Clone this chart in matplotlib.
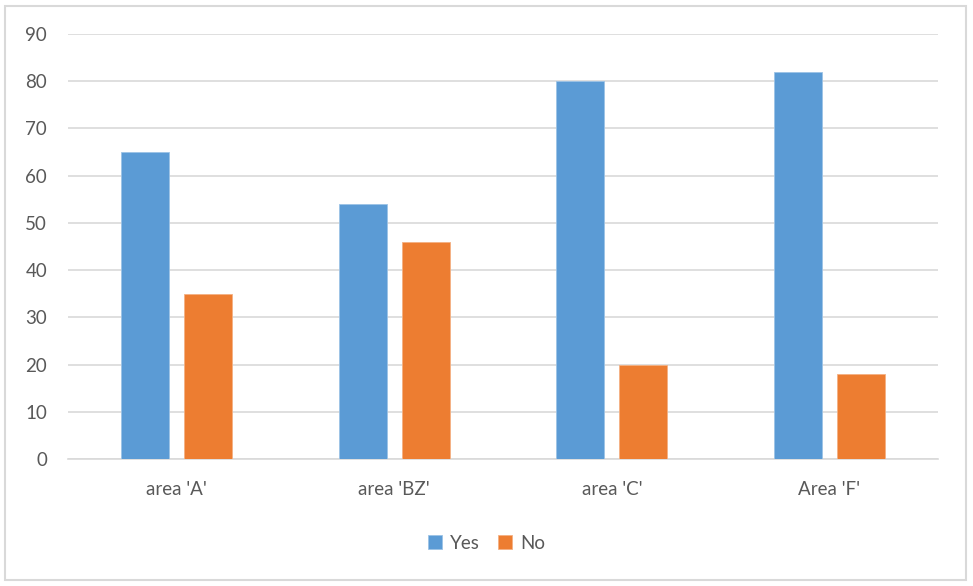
import numpy as np
import matplotlib.pyplot as plt
from matplotlib.patches import Rectangle

categories = ["area 'A'", "area 'BZ'", "area 'C'", "Area 'F'"]
yes_values = [65, 54, 80, 82]
no_values = [35, 46, 20, 18]
y_ticks = [0, 10, 20, 30, 40, 50, 60, 70, 80, 90]

blue = '#5B9BD5'
orange = '#ED7D31'
text_grey = '#595959'
line_grey = '#D9D9D9'

plt.rcParams['font.family'] = ['Lato', 'DejaVu Sans']

fig = plt.figure(figsize=[9.73, 5.86], dpi=100)
ax = fig.add_axes([0.0699, 0.2167, 0.8942, 0.7253])

# chart border
fig.patches.append(Rectangle((5 / 973, 6 / 586), 961 / 973, 574 / 586,
                             transform=fig.transFigure, fill=False,
                             edgecolor=line_grey, linewidth=1.5))

x = np.arange(len(categories))
width = 0.22
gap = 0.069
off = (width + gap) / 2

ax.bar(x - off, yes_values, width, color=blue, edgecolor='#9CC3E6',
       linewidth=0.6, label='Yes', zorder=3)
ax.bar(x + off, no_values, width, color=orange, edgecolor='#F4B183',
       linewidth=0.6, label='No', zorder=3)

ax.set_xlim(-0.5, len(categories) - 0.5)
ax.set_ylim(0, 90)
ax.set_yticks(y_ticks)
ax.set_xticks(x)
ax.set_xticklabels(categories)

ax.grid(axis='y', color=line_grey, linewidth=1.2, zorder=0)
for side in ['top', 'right', 'left']:
    ax.spines[side].set_visible(False)
ax.spines['bottom'].set_color(line_grey)
ax.spines['bottom'].set_linewidth(1.2)
ax.tick_params(axis='both', length=0, labelsize=13.5, colors=text_grey)
ax.tick_params(axis='y', pad=15)
ax.tick_params(axis='x', pad=16)

fig.legend(loc='center', bbox_to_anchor=(0.5, 0.073), ncol=2, frameon=False,
           fontsize=13.5, labelcolor=text_grey, handlelength=0.75,
           handleheight=0.75, handletextpad=0.4, columnspacing=1.0)

fig.savefig('out.png', dpi=100)
